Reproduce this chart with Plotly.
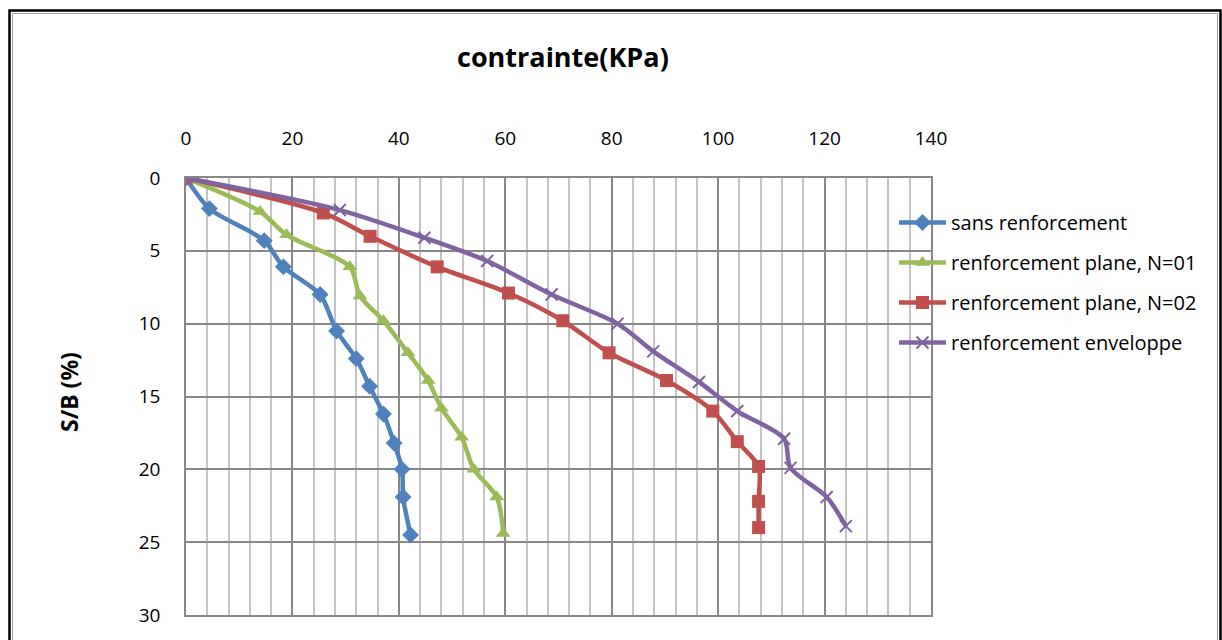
import plotly.graph_objects as go

# ---- data ----
names = ["sans renforcement", "renforcement plane, N=01",
         "renforcement plane, N=02", "renforcement enveloppe"]

sans_x = [0, 4.4, 14.7, 18.3, 25.2, 28.3, 32.0, 34.5, 37.1, 39.1, 40.6, 40.8, 42.2]
sans_y = [0, 2.1, 4.3, 6.1, 8.0, 10.5, 12.4, 14.3, 16.2, 18.2, 20.0, 21.9, 24.5]

n01_x = [0, 13.9, 18.9, 30.8, 32.7, 37.1, 41.7, 45.5, 48.0, 51.8, 54.1, 58.4, 59.6]
n01_y = [0, 2.3, 3.9, 6.1, 8.1, 9.8, 12.0, 13.9, 15.8, 17.8, 20.0, 21.9, 24.4]

n02_x = [0, 25.8, 34.6, 47.2, 60.6, 70.8, 79.5, 90.3, 99.0, 103.6, 107.6, 107.6, 107.6]
n02_y = [0, 2.4, 4.0, 6.1, 7.9, 9.8, 12.0, 13.9, 16.0, 18.1, 19.8, 22.2, 24.0]

env_x = [0, 28.9, 44.8, 56.6, 68.7, 81.1, 87.8, 96.4, 103.6, 112.4, 113.6, 120.4, 124.0]
env_y = [0, 2.2, 4.1, 5.7, 8.0, 10.0, 11.9, 14.0, 16.0, 17.9, 19.9, 21.9, 23.9]

x_ticks = [0, 20, 40, 60, 80, 100, 120, 140]
y_ticks = [0, 5, 10, 15, 20, 25, 30]

FONT = "Open Sans"
W, H = 1222, 640
L, R, T, B = 186, 931, 178, 615  # plot area in px

def px2x(p):
    return (p - L) / (R - L)

def px2y(p):
    return (B - p) / (B - T)

colors = ["#4F81BD", "#9BBB59", "#C0504D", "#8064A2"]
symbols = ["diamond", "triangle-up", "square", "x-thin-open"]
sizes = [13, 13, 13, 12]
series = [(sans_x, sans_y), (n01_x, n01_y), (n02_x, n02_y), (env_x, env_y)]

fig = go.Figure()
for i, ((xs, ys), name) in enumerate(zip(series, names)):
    marker = dict(symbol=symbols[i], size=sizes[i], color=colors[i])
    if symbols[i] == "x-thin-open":
        marker["line"] = dict(color=colors[i], width=2)
    else:
        marker["line"] = dict(color=colors[i], width=0)
    fig.add_trace(go.Scatter(
        x=xs, y=ys, name=name, mode="lines+markers",
        line=dict(color=colors[i], width=4.5, shape="spline", smoothing=0.8),
        marker=marker, legendgroup=f"g{i}",
    ))

fig.update_layout(
    width=W, height=H,
    margin=dict(l=L, r=W - R, t=T, b=H - B, pad=0),
    paper_bgcolor="white", plot_bgcolor="white",
    font=dict(family=FONT, color="black", size=19),
    showlegend=True,
    legend=dict(
        x=px2x(894), y=px2y(203), xanchor="left", yanchor="top",
        font=dict(family=FONT, size=20, color="black"),
        traceorder="grouped", tracegroupgap=11,
        bgcolor="rgba(0,0,0,0)", itemwidth=47,
    ),
    xaxis=dict(
        side="top", range=[0, 140], tickvals=x_ticks,
        ticktext=[str(v) for v in x_ticks],
        showgrid=True, gridcolor="#878787", gridwidth=1.5,
        minor=dict(dtick=4, showgrid=True, gridcolor="#C3C3C3", gridwidth=1.5),
        showline=True, linecolor="#878787", linewidth=1.5, mirror=True,
        ticks="", ticklabelstandoff=24, zeroline=False,
        tickfont=dict(family=FONT, size=19),
    ),
    yaxis=dict(
        range=[30, 0], tickvals=y_ticks,
        ticktext=[str(v) for v in y_ticks],
        showgrid=True, gridcolor="#878787", gridwidth=1.5,
        showline=True, linecolor="#878787", linewidth=1.5, mirror=True,
        ticks="", ticklabelstandoff=20, zeroline=False,
        tickfont=dict(family=FONT, size=19),
    ),
    annotations=[
        dict(text="<b>contrainte(KPa)</b>", xref="paper", yref="paper",
             x=px2x(563), y=px2y(57), xanchor="center", yanchor="middle",
             showarrow=False, font=dict(family=FONT, size=27, color="black")),
        dict(text="<b>S/B (%)</b>", xref="paper", yref="paper",
             x=px2x(69), y=px2y(392), xanchor="center", yanchor="middle",
             textangle=-90, showarrow=False,
             font=dict(family=FONT, size=23, color="black")),
    ],
    shapes=[
        dict(type="rect", xref="paper", yref="paper",
             x0=px2x(9.5), x1=px2x(1220.5), y0=px2y(700), y1=px2y(10.5),
             line=dict(color="black", width=2.5), fillcolor="rgba(0,0,0,0)",
             layer="below"),
        dict(type="rect", xref="paper", yref="paper",
             x0=px2x(12.5), x1=px2x(1217.5), y0=px2y(700), y1=px2y(13.5),
             line=dict(color="#A0A0A0", width=1), fillcolor="rgba(0,0,0,0)",
             layer="below"),
    ],
)

fig.write_html("out.html")
